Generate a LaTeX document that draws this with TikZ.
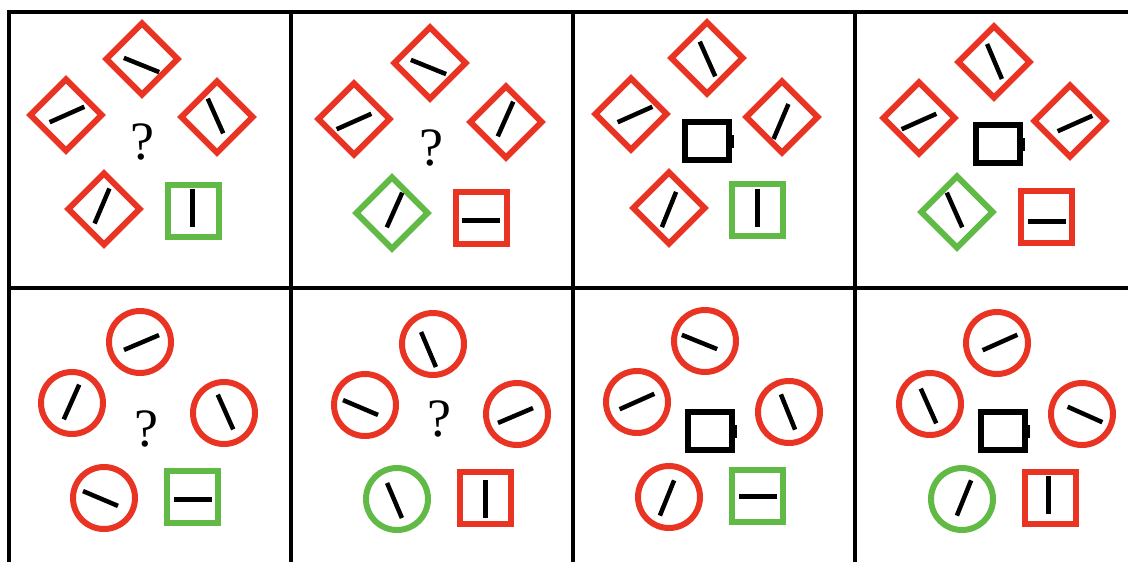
\documentclass[tikz,border=0pt]{standalone}
\usepackage{fontspec}
\setmainfont{Liberation Serif}
\usepackage{xcolor}
\usepackage{tikz}
\usetikzlibrary{positioning}
\definecolor{tilered}{HTML}{E93323}
\definecolor{tilegreen}{HTML}{62BA46}
\tikzset{
  diabox/.style={
    rectangle, draw=#1, line width=6pt, rotate=45,
    minimum size=50.5pt, inner sep=0pt
  },
  diabox/.default=tilered,
  ringbox/.style={
    circle, draw=#1, line width=6pt,
    minimum size=62pt, inner sep=0pt
  },
  ringbox/.default=tilered,
  sqbox/.style={
    rectangle, draw=#1, line width=6pt,
    minimum width=51pt, minimum height=52pt, inner sep=0pt
  },
  sqbox/.default=tilegreen,
  holebox/.style={
    rectangle, draw=black, line width=6pt,
    minimum width=44pt, minimum height=38pt, inner sep=0pt
  },
  notchbox/.style={
    rectangle, fill=black, inner sep=0pt,
    minimum width=5pt, minimum height=13pt
  },
  tickbar/.style={
    rectangle, fill=black, inner sep=0pt,
    minimum width=38pt, minimum height=4.5pt, rotate=#1
  },
  tickbar/.default=0,
  sqbar/.style={
    rectangle, fill=black, inner sep=0pt,
    minimum width=38pt, minimum height=5pt, rotate=#1
  },
  sqbar/.default=0,
  qmark/.style={
    font=\fontsize{54}{60}\selectfont, inner sep=0pt
  },
  gridline/.style={line width=4pt, line cap=rect}
}
\begin{document}
\begin{tikzpicture}[x=1pt, y=-1pt]
  \useasboundingbox (0,0) rectangle (1128,562);

  % Grid
  \draw[gridline] (8.5,11.5) -- (1128,11.5);
  \draw[gridline] (8.5,288) -- (1128,288);
  \foreach \x in {8.5,291,573,855}
    \draw[gridline] (\x,11.5) -- (\x,562);

  % Cell 1
  \node[diabox] (d1a) at (142,59) {};
  \node[diabox] (d1b) at (66,115) {};
  \node[diabox] (d1c) at (217,117) {};
  \node[diabox] (d1d) at (104,209) {};
  \node[sqbox] (s1) at (193,211) {};
  \node[tickbar=-22] (t1a) at (141.5,65) {};
  \node[tickbar=24] (t1b) at (67,114.5) {};
  \node[tickbar=-66] (t1c) at (215.5,116) {};
  \node[tickbar=67] (t1d) at (102,206) {};
  \node[sqbar=90] (b1) at (192,208) {};
  \node[qmark] (q1) at (142,142) {?};

  % Cell 2
  \node[diabox] (d2a) at (430,63) {};
  \node[diabox] (d2b) at (354,119) {};
  \node[diabox] (d2c) at (506,122) {};
  \node[diabox=tilegreen] (d2d) at (392,213) {};
  \node[sqbox=tilered] (s2) at (481,218) {};
  \node[tickbar=-22] (t2a) at (428.5,67) {};
  \node[tickbar=24] (t2b) at (354,121.5) {};
  \node[tickbar=66] (t2c) at (505.5,119) {};
  \node[tickbar=66] (t2d) at (394.5,210) {};
  \node[sqbar] (b2) at (481,220) {};
  \node[qmark] (q2) at (431,148) {?};

  % Cell 3
  \node[diabox] (d3a) at (707,58) {};
  \node[diabox] (d3b) at (631,114) {};
  \node[diabox] (d3c) at (782,117) {};
  \node[diabox] (d3d) at (669,208) {};
  \node[sqbox] (s3) at (757,210) {};
  \node[holebox] (h3) at (707,141) {};
  \node[notchbox, xshift=-1pt] (n3) at (h3.east) {};
  \node[tickbar=-66] (t3a) at (707.5,59) {};
  \node[tickbar=24] (t3b) at (635,114.5) {};
  \node[tickbar=67] (t3c) at (781,121.5) {};
  \node[tickbar=68] (t3d) at (669,209.5) {};
  \node[sqbar=90] (b3) at (757,208) {};

  % Cell 4
  \node[diabox] (d4a) at (994,62) {};
  \node[diabox] (d4b) at (919,118) {};
  \node[diabox] (d4c) at (1070,121) {};
  \node[diabox=tilegreen] (d4d) at (957,212) {};
  \node[sqbox=tilered] (s4) at (1046,217) {};
  \node[holebox] (h4) at (998,144) {};
  \node[notchbox, xshift=-1pt] (n4) at (h4.east) {};
  \node[tickbar=-67] (t4a) at (994.5,61.5) {};
  \node[tickbar=24] (t4b) at (919,121.5) {};
  \node[tickbar=24] (t4c) at (1075,123.5) {};
  \node[tickbar=-66] (t4d) at (954.5,210) {};
  \node[sqbar] (b4) at (1047,221) {};

  % Cell 5
  \node[ringbox] (r5a) at (140,342) {};
  \node[ringbox] (r5b) at (72,403) {};
  \node[ringbox] (r5c) at (224,413) {};
  \node[ringbox] (r5d) at (104,498) {};
  \node[sqbox] (s5) at (192,497) {};
  \node[tickbar=23] (t5a) at (141.5,342.5) {};
  \node[tickbar=66] (t5b) at (71.5,402) {};
  \node[tickbar=-66] (t5c) at (225.5,412) {};
  \node[tickbar=-23] (t5d) at (100.5,498.5) {};
  \node[sqbar] (b5) at (193,499) {};
  \node[qmark] (q5) at (146,429) {?};

  % Cell 6
  \node[ringbox] (r6a) at (433,344) {};
  \node[ringbox] (r6b) at (365,405) {};
  \node[ringbox] (r6c) at (517,414) {};
  \node[ringbox=tilegreen] (r6d) at (397,499) {};
  \node[sqbox=tilered] (s6) at (485,498) {};
  \node[tickbar=-67] (t6a) at (428.5,349.5) {};
  \node[tickbar=-23] (t6b) at (360.5,407.5) {};
  \node[tickbar=23] (t6c) at (515.5,415.5) {};
  \node[tickbar=-67] (t6d) at (394.5,500.5) {};
  \node[sqbar=90] (b6) at (485,499) {};
  \node[qmark] (q6) at (439,419) {?};

  % Cell 7
  \node[ringbox] (r7a) at (705,341) {};
  \node[ringbox] (r7b) at (637,402) {};
  \node[ringbox] (r7c) at (789,412) {};
  \node[ringbox] (r7d) at (669,497) {};
  \node[sqbox] (s7) at (757,496) {};
  \node[holebox] (h7) at (710,431) {};
  \node[notchbox, xshift=-1pt] (n7) at (h7.east) {};
  \node[tickbar=-22] (t7a) at (699.5,342) {};
  \node[tickbar=24] (t7b) at (637,401.5) {};
  \node[tickbar=-68] (t7c) at (788,412) {};
  \node[tickbar=68] (t7d) at (667,498) {};
  \node[sqbar] (b7) at (758,496) {};

  % Cell 8
  \node[ringbox] (r8a) at (997,343) {};
  \node[ringbox] (r8b) at (930,404) {};
  \node[ringbox] (r8c) at (1082,414) {};
  \node[ringbox=tilegreen] (r8d) at (962,499) {};
  \node[sqbox=tilered] (s8) at (1050,498) {};
  \node[holebox] (h8) at (1003,431) {};
  \node[notchbox, xshift=-1pt] (n8) at (h8.east) {};
  \node[tickbar=24] (t8a) at (1000,342.5) {};
  \node[tickbar=-66] (t8b) at (928.5,406) {};
  \node[tickbar=-24] (t8c) at (1085,414.5) {};
  \node[tickbar=68] (t8d) at (964,498) {};
  \node[sqbar=90] (b8) at (1048,495) {};
\end{tikzpicture}
\end{document}
